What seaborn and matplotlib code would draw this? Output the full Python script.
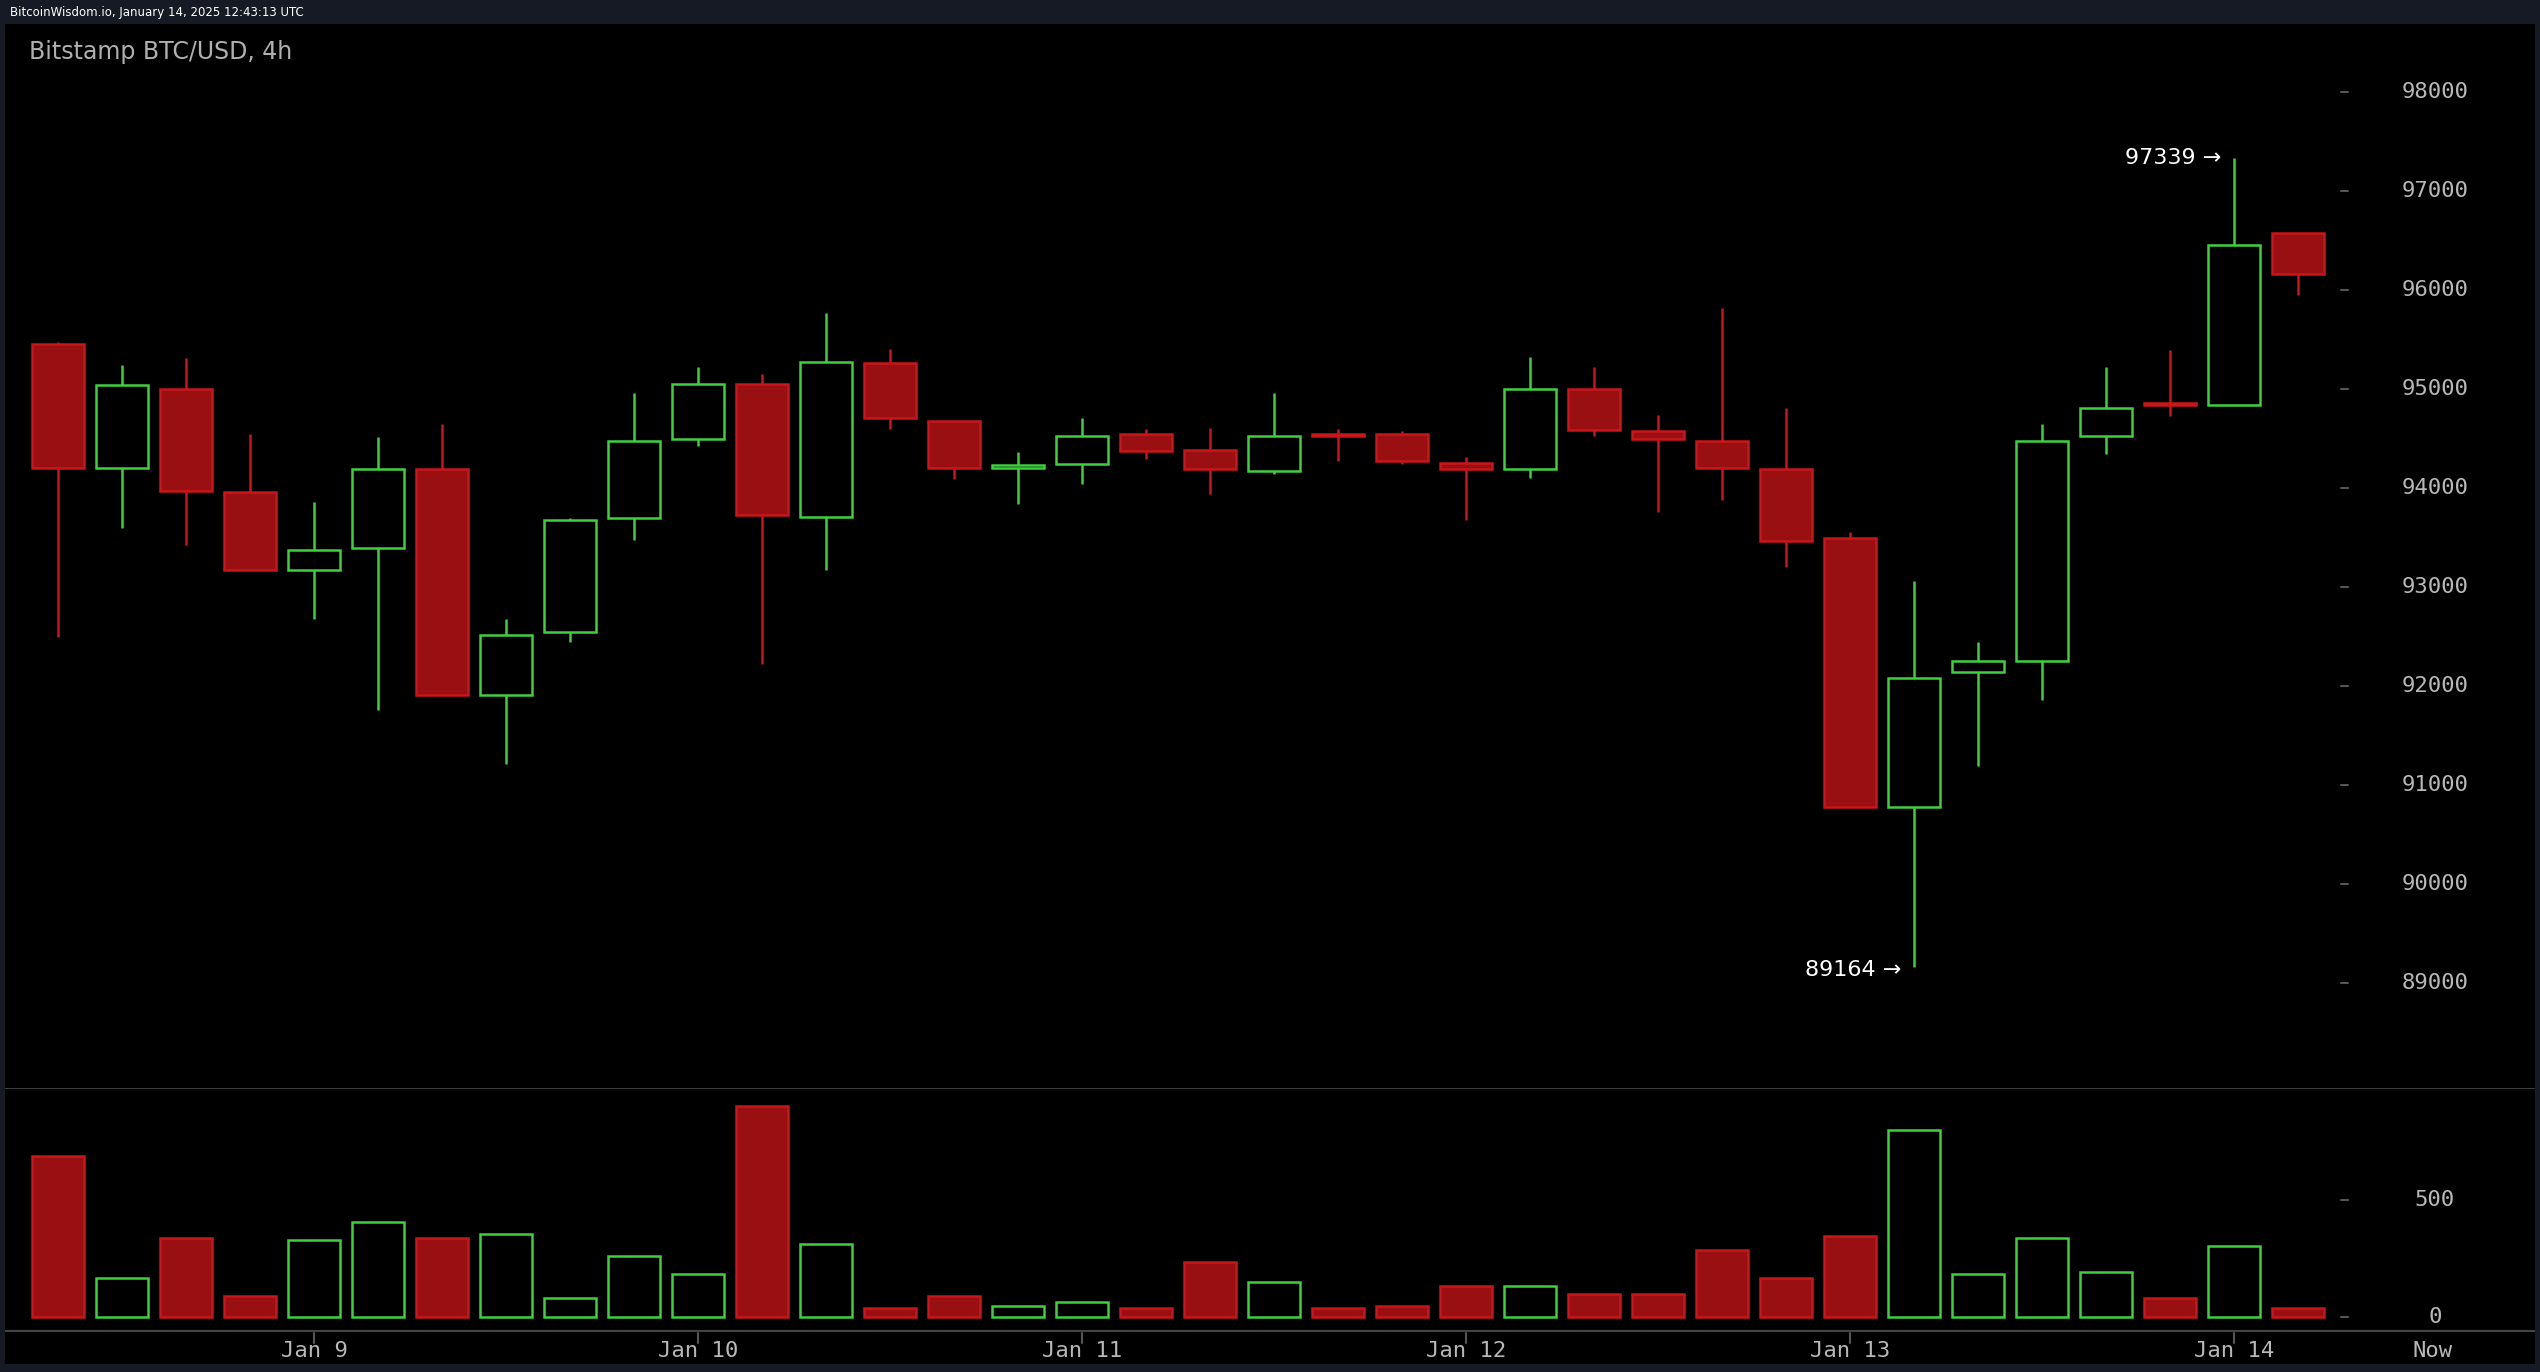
import numpy as np
import pandas as pd
import matplotlib
matplotlib.use("Agg")
import matplotlib.pyplot as plt
import matplotlib.transforms as mtrans
import seaborn as sns

# 4h candles, Jan 8 08:00 .. Jan 14 12:00
opens = [95460, 94200, 95000, 93960, 93170, 93400, 94190, 91910, 92550, 93700, 94500, 95050,
         93710, 95270, 94680, 94200, 94240, 94550, 94390, 94170, 94550, 94550, 94250, 94190,
         95000, 94580, 94480, 94190, 93500, 90780, 92140, 92250, 94530, 94860, 94840, 96580]
highs = [95480, 95250, 95320, 94550, 93860, 94520, 94650, 92680, 93700, 94960, 95220, 95150,
         95770, 95410, 94680, 94370, 94710, 94600, 94610, 94960, 94600, 94580, 94320, 95330,
         95220, 94740, 95820, 94810, 93560, 93060, 92450, 94650, 95220, 95400, 97339, 96580]
lows = [92500, 93600, 93430, 93170, 92680, 91760, 91910, 91210, 92450, 93480, 94430, 92220,
        93170, 94600, 94090, 93840, 94040, 94300, 93940, 94140, 94270, 94240, 93680, 94100,
        94530, 93760, 93880, 93200, 90780, 89164, 91190, 91860, 94350, 94730, 94840, 95950]
closes = [94200, 95040, 93970, 93170, 93380, 94190, 91910, 92520, 93680, 94480, 95050, 93730,
          95280, 94710, 94200, 94230, 94530, 94380, 94190, 94530, 94530, 94270, 94190, 95000,
          94590, 94500, 94200, 93470, 90780, 92080, 92250, 94480, 94810, 94840, 96460, 96160]
volumes = [690, 167, 339, 90, 330, 407, 339, 356, 81, 261, 184, 904, 313, 39, 90, 47, 64, 39,
           236, 150, 39, 47, 133, 133, 99, 99, 287, 167, 347, 801, 184, 339, 193, 81, 304, 39]
price_ticks = [89000, 90000, 91000, 92000, 93000, 94000, 95000, 96000, 97000, 98000]
date_labels = ["Jan 9", "Jan 10", "Jan 11", "Jan 12", "Jan 13", "Jan 14", "Now"]
date_pos = [4, 10, 16, 22, 28, 34, 37.1]

df = pd.DataFrame({"o": opens, "h": highs, "l": lows, "c": closes, "v": volumes})
df["i"] = np.arange(len(df))
df["up"] = df["c"] >= df["o"]

sns.set_style("dark")
plt.rcParams["font.family"] = ["DejaVu Sans"]

RED_F, RED_E, GREEN = "#9a0f12", "#c8161a", "#3fcf3f"
TXT = "#b8b8b8"
W = 1568.0; H = 847.0  # layout measured in half-size coords

fig = plt.figure(figsize=(25.4, 13.72), dpi=100, facecolor="#161a25")
# black panel
fig.patches.append(plt.Rectangle((3 / W, 5 / H), 1562 / W, 827 / H, transform=fig.transFigure,
                                 facecolor="black", edgecolor="none", zorder=-10))

xl = ((3 - 36) / 39.5, (1565 - 36) / 39.5)
ax = fig.add_axes([3 / W, 1 - 672 / H, 1562 / W, 657 / H])
axv = fig.add_axes([3 / W, 1 - 822 / H, 1562 / W, 150 / H])
for a in (ax, axv):
    a.set_facecolor("black")
    a.set_zorder(5)
    a.set_xlim(*xl)
    a.set_xticks([]); a.set_yticks([])
    for s in a.spines.values():
        s.set_visible(False)
    a.grid(False)
ax.set_ylim(98000 - (672 - 57) / 0.0611, 98000 + (57 - 15) / 0.0611)
axv.set_ylim(-62, 979)
ax.axhline(ax.get_ylim()[0], color="#444444", lw=2)
axv.axhline(-62, color="#444444", lw=3)

bw = 0.81
for r in df.itertuples():
    col = GREEN if r.up else RED_E
    lo_b, hi_b = min(r.o, r.c), max(r.o, r.c)
    ax.vlines(r.i, r.l, lo_b, color=col, lw=1.8)
    ax.vlines(r.i, hi_b, r.h, color=col, lw=1.8)
    if r.up:
        ax.bar(r.i, max(hi_b - lo_b, 15), bottom=lo_b, width=bw, facecolor="black",
               edgecolor=GREEN, lw=1.8)
        axv.bar(r.i, r.v, width=bw, facecolor="black", edgecolor=GREEN, lw=1.8)
    else:
        ax.bar(r.i, max(hi_b - lo_b, 15), bottom=lo_b, width=bw, facecolor=RED_F,
               edgecolor=RED_E, lw=1.8)
        axv.bar(r.i, r.v, width=bw, facecolor=RED_F, edgecolor=RED_E, lw=1.8)

# right-hand tick labels
tl = mtrans.blended_transform_factory(ax.transAxes, ax.transData)
xlab = (1503 - 3) / 1562; xtk = (1445 - 3) / 1562
for p in price_ticks:
    ax.text(xlab, p, str(p), transform=tl, color=TXT, fontsize=16, ha="center", va="center",
            family="DejaVu Sans Mono")
    ax.plot([xtk, xtk + 0.003], [p, p], transform=tl, color="#555555", lw=1.5)
tv = mtrans.blended_transform_factory(axv.transAxes, axv.transData)
for v in [0, 500]:
    axv.text(xlab, v, str(v), transform=tv, color=TXT, fontsize=16, ha="center", va="center",
             family="DejaVu Sans Mono")
    axv.plot([xtk, xtk + 0.003], [v, v], transform=tv, color="#555555", lw=1.5)

# date labels
tx = mtrans.blended_transform_factory(axv.transData, fig.transFigure)
for lab, p in zip(date_labels, date_pos):
    fig.text(p, 1 - 834 / H, lab, transform=tx, color=TXT, fontsize=16, ha="center",
             va="center", family="DejaVu Sans Mono", zorder=10)
    if lab != "Now":
        fig.lines.append(plt.Line2D([p, p], [1 - 823 / H, 1 - 829 / H], transform=tx,
                                    color="#555555", lw=1.5, zorder=10))

# extremes
ax.text(34 - 0.2, 97339, "97339 →", color="white", fontsize=16, ha="right", va="center")
ax.text(29 - 0.2, 89164 - 30, "89164 →", color="white", fontsize=16, ha="right", va="center")

fig.text(18 / W, 1 - 32 / H, "Bitstamp BTC/USD, 4h", color="#b0b0b0", fontsize=17,
         va="center", zorder=10)
fig.text(6 / W, 1 - 8 / H, "BitcoinWisdom.io, January 14, 2025 12:43:13 UTC", color="white",
         fontsize=8.5, va="center", zorder=10)

fig.savefig("out.png", dpi=100, facecolor=fig.get_facecolor())
